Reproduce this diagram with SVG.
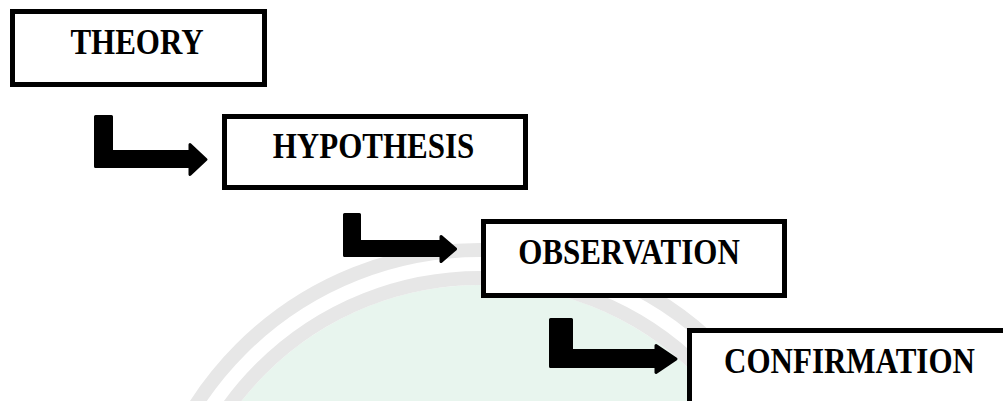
<svg xmlns="http://www.w3.org/2000/svg" width="1003" height="401" viewBox="0 0 1003 401">
  <defs>
    <style>
      .box { fill: #ffffff; stroke: #000000; stroke-width: 5; }
      .lbl { font-family: "Liberation Serif", "Times New Roman", serif; font-weight: bold; font-size: 31px; fill: #000000; text-anchor: middle; }
      .arrow { fill: #000000; stroke: #000000; stroke-width: 3; stroke-linejoin: round; }
      .wm-band { fill: none; stroke: #e7e7e7; stroke-width: 14; }
    </style>
  </defs>
  <rect x="0" y="0" width="1003" height="401" fill="#ffffff"/>
  <g id="watermark">
    <circle cx="480" cy="588" r="303" fill="#e8f5ee"/>
    <circle cx="480" cy="588" r="338" class="wm-band"/>
    <circle cx="480" cy="588" r="310" class="wm-band" stroke-width="10"/>
  </g>
  <g id="connectors">
    <path class="arrow" d="M95.5,116.5 L111.5,116.5 L111.5,151.5 L190,151.5 L190,144.5 L206,159.5 L190,174.5 L190,166.5 L95.5,166.5 Z"/>
    <path class="arrow" d="M344.5,214.5 L359.5,214.5 L359.5,241.5 L441,241.5 L441,236.5 L455.5,249 L441,261.5 L441,255.5 L344.5,255.5 Z"/>
    <path class="arrow" d="M550.5,319.5 L571.5,319.5 L571.5,350.5 L656,350.5 L656,345.5 L676,359 L656,372.5 L656,366.5 L550.5,366.5 Z" fill="#03140e" stroke="#03140e"/>
  </g>
  <g id="theory">
    <rect class="box" x="12.5" y="11.5" width="252" height="73"/>
    <text class="lbl" transform="translate(137,54) scale(1,1.16)">THEORY</text>
  </g>
  <g id="hypothesis">
    <rect class="box" x="224.5" y="116.5" width="301" height="71"/>
    <text class="lbl" transform="translate(373.5,158) scale(1,1.16)">HYPOTHESIS</text>
  </g>
  <g id="observation">
    <rect class="box" x="483.5" y="221.5" width="301" height="74"/>
    <text class="lbl" transform="translate(629,264) scale(1,1.16)">OBSERVATION</text>
  </g>
  <g id="confirmation">
    <rect class="box" x="689.5" y="330.5" width="400" height="200"/>
    <text class="lbl" transform="translate(849.5,373) scale(1,1.16)">CONFIRMATION</text>
  </g>
</svg>
